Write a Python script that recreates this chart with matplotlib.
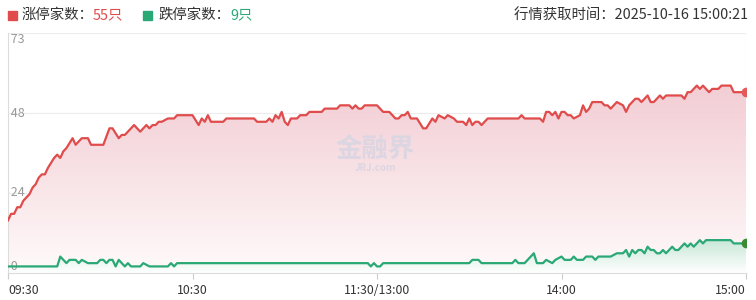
import numpy as np
import matplotlib
matplotlib.use("Agg")
import matplotlib.pyplot as plt
from matplotlib.colors import to_rgb

plt.rcParams["font.family"] = ["Noto Sans CJK SC", "DejaVu Sans"]

# ---------------------------------------------------------------- data
# minutes since 09:30 (0..120 morning, 120..240 afternoon, 11:30 == 13:00)
red_t = [0, 1, 2, 3, 4, 5, 6, 7, 8, 9,
         10, 11, 12, 13, 15, 16, 17, 18, 19, 21,
         22, 24, 26, 27, 31, 33, 34, 36, 37, 38,
         41, 43, 45, 46, 47, 48, 49, 50, 52, 54,
         55, 60, 62, 63, 64, 65, 66, 70, 71, 80,
         81, 84, 85, 86, 87, 88, 89, 90, 91, 92,
         94, 95, 97, 98, 102, 103, 107, 108, 111, 112,
         113, 114, 115, 116, 120, 121, 122, 124, 126, 127,
         128, 129, 130, 131, 133, 135, 136, 138, 139, 140,
         142, 143, 145, 146, 148, 149, 150, 151, 152, 153,
         154, 156, 166, 167, 168, 173, 174, 175, 176, 177,
         178, 179, 180, 181, 182, 183, 184, 186, 187, 188,
         189, 190, 193, 194, 195, 196, 198, 200, 201, 202,
         204, 205, 206, 208, 209, 210, 212, 213, 214, 219,
         220, 221, 222, 224, 225, 226, 228, 229, 231, 232,
         235, 236, 240]
red_v = [16, 18, 18, 20, 20, 22, 23, 24, 26, 27,
         29, 30, 30, 32, 35, 36, 35, 37, 38, 41,
         39, 41, 41, 39, 39, 44, 44, 41, 42, 42,
         45, 43, 45, 44, 45, 45, 46, 46, 47, 47,
         48, 48, 45, 47, 46, 48, 46, 46, 47, 47,
         46, 46, 47, 46, 48, 47, 49, 46, 45, 47,
         47, 48, 48, 49, 49, 50, 50, 51, 51, 50,
         51, 50, 50, 51, 51, 50, 49, 49, 47, 47,
         48, 48, 49, 47, 47, 44, 44, 47, 46, 48,
         47, 48, 47, 46, 46, 45, 47, 45, 46, 46,
         45, 47, 47, 48, 47, 47, 46, 49, 49, 48,
         49, 47, 49, 49, 48, 48, 47, 48, 51, 49,
         50, 52, 52, 51, 51, 50, 52, 51, 49, 51,
         53, 53, 52, 54, 52, 52, 54, 53, 54, 54,
         53, 55, 55, 57, 56, 57, 55, 56, 56, 57,
         57, 55, 55]

green_t = [0, 16, 17, 19, 20, 22, 23, 24, 26, 29,
           30, 31, 32, 33, 34, 35, 36, 37, 38, 39,
           40, 43, 44, 46, 52, 53, 54, 55, 117, 118,
           119, 120, 121, 122, 150, 151, 153, 154, 164, 165,
           166, 168, 171, 172, 174, 175, 177, 178, 180, 181,
           183, 184, 185, 187, 188, 190, 191, 192, 196, 198,
           200, 201, 202, 203, 204, 205, 206, 207, 208, 209,
           210, 211, 212, 213, 214, 216, 217, 218, 220, 221,
           222, 223, 224, 225, 226, 227, 235, 236, 240]
green_v = [2, 2, 5, 3, 4, 4, 3, 4, 3, 3,
           4, 4, 3, 4, 4, 2, 4, 3, 2, 3,
           2, 2, 3, 2, 2, 3, 2, 3, 3, 2,
           3, 2, 2, 3, 3, 4, 4, 3, 3, 4,
           3, 3, 6, 3, 3, 4, 3, 4, 5, 4,
           4, 5, 4, 4, 5, 5, 4, 5, 5, 6,
           6, 7, 5, 7, 6, 7, 7, 6, 8, 7,
           7, 6, 6, 7, 6, 8, 7, 7, 9, 8,
           9, 8, 9, 10, 9, 10, 10, 9, 9]

y_max = 73
x_ticks = [0, 60, 120, 180, 240]
x_labels = ["09:30", "10:30", "11:30/13:00", "14:00", "15:00"]

up_label, up_count = "涨停家数：", "55只"
down_label, down_count = "跌停家数：", "9只"
stamp = "行情获取时间：2025-10-16 15:00:21"

RED = "#e04b4b"
GREEN = "#2aa876"


def gradient_fill(ax, x, y, top, bottom, top_val):
    """Fill under a line with a vertical colour gradient."""
    poly = ax.fill_between(x, y, 0, color="none", lw=0)
    t = np.linspace(0, 1, 256)[:, None]
    c0, c1 = np.array(to_rgb(top)), np.array(to_rgb(bottom))
    img = (c0 * (1 - t) + c1 * t)[:, None, :]
    im = ax.imshow(img, extent=[x[0], x[-1], 0, top_val], aspect="auto",
                   origin="upper", zorder=1, interpolation="bilinear")
    im.set_clip_path(poly.get_paths()[0], transform=ax.transData)


W, H = 756, 300
fig = plt.figure(figsize=(W / 100, H / 100), dpi=100)
ax = fig.add_axes([8 / W, 27 / H, 738 / W, 240 / H])

gradient_fill(ax, red_t, red_v, "#f2cdd4", "#fffafa", max(red_v))
gradient_fill(ax, green_t, green_v, "#c9e8d8", "#ffffff", max(green_v))
ax.plot(red_t, red_v, color=RED, lw=1.6, zorder=4)
ax.plot(green_t, green_v, color=GREEN, lw=1.6, zorder=4)
ax.plot(red_t[-1], red_v[-1], "o", color="#e45a5a", ms=6, zorder=5)
ax.plot(green_t[-1], green_v[-1], "o", color="#3b8a34", ms=6, zorder=5)

ax.set_xlim(0, 240)
ax.set_ylim(0, y_max)

# grid and frame
for v in [y_max / 3, 2 * y_max / 3, y_max]:
    ax.axhline(v, color="#ececec", lw=0.8, zorder=0)
for s in ["top", "right"]:
    ax.spines[s].set_visible(False)
ax.spines["left"].set_color("#dcdcdc")
ax.spines["bottom"].set_color("#dcdcdc")
ax.axvline(240, color="#ececec", lw=0.8, zorder=0)

# y labels inside the plot
ax.set_yticks([])
for v, va in [(y_max, "top"), (2 * y_max / 3, "center"), (y_max / 3, "center"), (0, "bottom")]:
    ax.text(0, v, f" {int(v)}", ha="left", va=va, fontsize=9, color="#999999", zorder=3)

ax.set_xticks(x_ticks)
ax.set_xticklabels(x_labels, fontsize=8.8, color="#333333")
ax.tick_params(axis="x", length=4, color="#cccccc", pad=4)
lbls = ax.get_xticklabels()
lbls[0].set_ha("left")
lbls[-1].set_ha("right")

# watermark
fig.text(375 / W, 1 - 150 / H, "金融界", fontsize=19, fontweight="bold",
         color="#dcd6e2", ha="center", va="center", zorder=2)
fig.text(375 / W, 1 - 168 / H, "JRJ.com", fontsize=7, fontweight="bold",
         color="#dcd6e2", ha="center", va="center", zorder=2)

# header
ty = 1 - 15 / H
fig.patches.append(plt.Rectangle((8 / W, 1 - 20 / H), 9 / W, 9 / H, color=RED,
                                 transform=fig.transFigure, figure=fig))
fig.text(22 / W, ty, up_label, fontsize=10.4, color="#333333", va="center")
fig.text(93 / W, ty, up_count, fontsize=10.4, color=RED, va="center")
fig.patches.append(plt.Rectangle((143 / W, 1 - 20 / H), 9 / W, 9 / H, color=GREEN,
                                 transform=fig.transFigure, figure=fig))
fig.text(158 / W, ty, down_label, fontsize=10.4, color="#333333", va="center")
fig.text(230 / W, ty, down_count, fontsize=10.4, color=GREEN, va="center")
fig.text(748 / W, ty, stamp, fontsize=10.4, color="#333333", va="center", ha="right")

fig.savefig("out.png", dpi=100)
